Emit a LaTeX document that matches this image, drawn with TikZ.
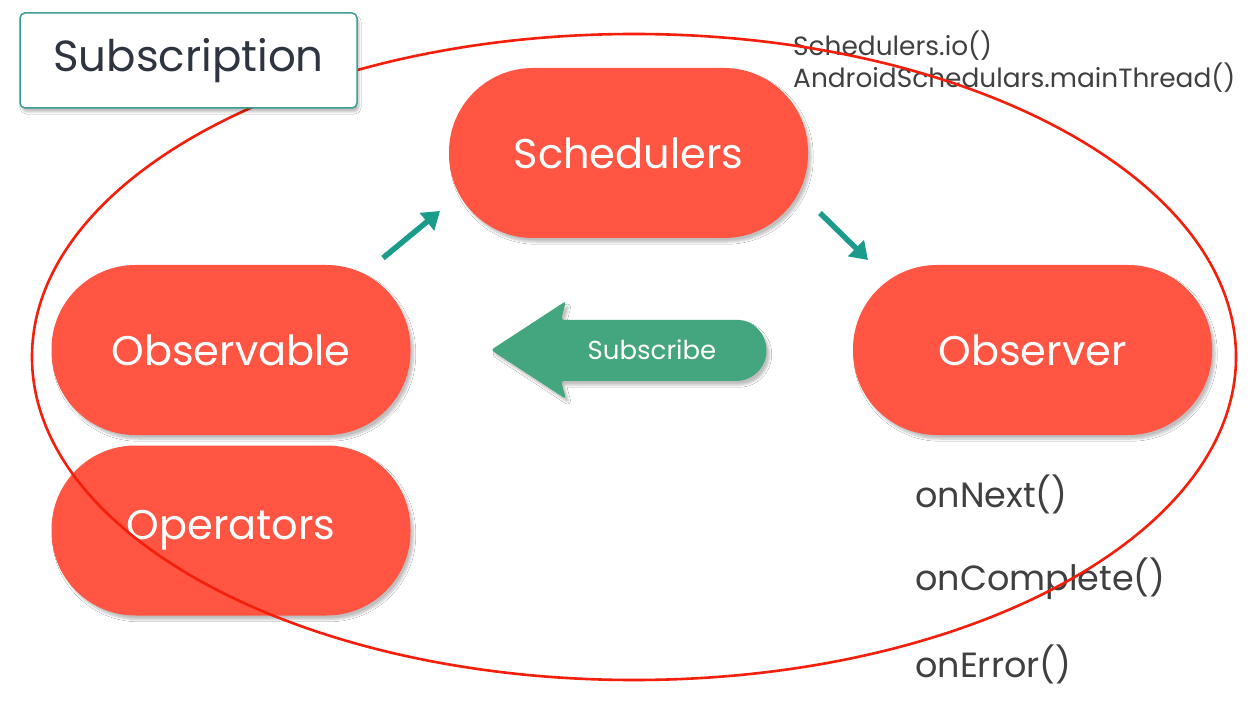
\documentclass[tikz,border=0pt]{standalone}
\usepackage{fontspec}
\setmainfont{Poppins}
\usetikzlibrary{arrows.meta,shadows,shadows.blur}
\definecolor{pillred}{HTML}{FF5542}
\definecolor{ellred}{HTML}{F41E0A}
\definecolor{subgreen}{HTML}{44A67E}
\definecolor{tealarrow}{HTML}{1B9C8B}
\definecolor{textgray}{HTML}{404040}
\definecolor{boxteal}{HTML}{3A9E95}
\definecolor{boxtext}{HTML}{2E3440}
\begin{document}
\begin{tikzpicture}[x=1pt,y=-1pt,
  pillbox/.style={fill=pillred, rounded corners=84pt, minimum width=359pt, minimum height=170pt,
    inner sep=0pt, text=white, font=\fontsize{41.5}{44}\selectfont,
    blur shadow={shadow xshift=3pt, shadow yshift=-4pt, shadow opacity=25, shadow blur steps=8}},
  calltext/.style={text=textgray, anchor=west, inner sep=0pt, font=\fontsize{35}{38}\selectfont},
  topnote/.style={text=textgray, anchor=west, inner sep=0pt, font=\fontsize{26.4}{29}\selectfont},
  flowarrow/.style={draw=tealarrow, line width=5.5pt, -{Triangle[length=17pt,width=22pt]}},
]
\useasboundingbox (0,0) rectangle (1259,703);
\fill[white] (0,0) rectangle (1259,703);

% pills
\node[pillbox] (sched) at (628.5,153) {Schedulers};
\node[pillbox] (obsable) at (231,350) {Observable};
\node[pillbox] (ops) at (231,530.5) {Operators};
\node[pillbox] (obser) at (1032.5,350) {Observer};

% flow arrows
\coordinate (a1s) at (383,258);
\coordinate (a1e) at (440,211);
\coordinate (a2s) at (820,213);
\coordinate (a2e) at (868,260);
\draw[flowarrow] (a1s) -- (a1e);
\draw[flowarrow] (a2s) -- (a2e);

% subscribe arrow
\fill[subgreen, rounded corners=3pt, blur shadow={shadow xshift=3pt, shadow yshift=-4pt, shadow opacity=25}]
  (491,350) -- (566,301) -- (561,320) -- (736,320)
  [sharp corners] arc[start angle=-90, end angle=90, radius=30.5] [rounded corners=3pt]
  -- (561,381) -- (566,399) -- cycle;
\node[text=white, inner sep=0pt, font=\fontsize{26}{28}\selectfont] (subtxt) at (652,350) {Subscribe};

% texts
\node[topnote] (n1) at (793,46) {Schedulers.io()};
\node[topnote] (n2) at (793,78) {AndroidSchedulars.mainThread()};
\node[calltext] (c1) at (915,494) {onNext()};
\node[calltext] (c2) at (915,579) {onComplete()};
\node[calltext] (c3) at (915,664) {onError()};

% ellipse
\draw[ellred, line width=2.6pt] (634,357) ellipse [x radius=602pt, y radius=323pt];

% subscription box
\node[draw=boxteal, line width=1.5pt, fill=white, rounded corners=5pt, minimum width=337pt,
  minimum height=95pt, inner sep=0pt, text=boxtext, font=\fontsize{43.5}{46}\selectfont,
  blur shadow={shadow xshift=2pt, shadow yshift=-4pt, shadow opacity=25}]
  (subs) at (188.5,60.5) {Subscription};
\end{tikzpicture}
\end{document}
